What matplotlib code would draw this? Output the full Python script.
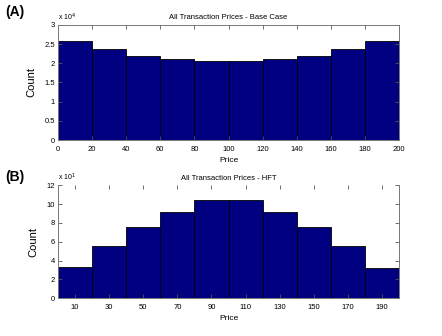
import matplotlib
matplotlib.use("Agg")
import matplotlib.pyplot as plt
from matplotlib.ticker import FuncFormatter

# Data
bin_edges = [0, 20, 40, 60, 80, 100, 120, 140, 160, 180, 200]
counts_base = [25900, 23700, 21800, 21000, 20500, 20500, 21000, 21900, 23700, 25800]
counts_hft = [33, 56, 76, 92, 104, 104, 92, 76, 56, 32]
xticks_a = [0, 20, 40, 60, 80, 100, 120, 140, 160, 180, 200]
xticks_b = [10, 30, 50, 70, 90, 110, 130, 150, 170, 190]
yticks_a = [0, 5000, 10000, 15000, 20000, 25000, 30000]
yticks_b = [0, 20, 40, 60, 80, 100, 120]

plt.rcParams['font.family'] = ['Liberation Sans', 'DejaVu Sans']

fig = plt.figure(figsize=(4.42, 3.36), dpi=100)
ax_a = fig.add_axes([0.131, 0.583, 0.772, 0.343])
ax_b = fig.add_axes([0.131, 0.112, 0.772, 0.337])

def draw(ax, counts, xticks, yticks, scale, exp, title, top_spine=True):
    lefts = bin_edges[:-1]
    widths = [bin_edges[i + 1] - bin_edges[i] for i in range(len(lefts))]
    ax.bar(lefts, counts, width=widths, align='edge', color='#000080',
           edgecolor='black', linewidth=0.6)
    ax.set_xlim(0, 200)
    ax.set_ylim(yticks[0], yticks[-1])
    ax.set_xticks(xticks)
    ax.set_yticks(yticks)
    ax.yaxis.set_major_formatter(FuncFormatter(lambda v, p: f"{v / scale:g}"))
    ax.tick_params(direction='in', length=3, width=0.6, labelsize=5.5,
                   top=True, right=True, color='#555555', pad=2)
    ax.tick_params(axis='x', pad=4)
    for s in ax.spines.values():
        s.set_color('#777777')
        s.set_linewidth(0.7)
    if not top_spine:
        ax.spines['top'].set_visible(False)
    ax.set_xlabel('Price', fontsize=6, labelpad=3)
    ax.set_ylabel('Count', fontsize=8, labelpad=6)
    ax.set_title(title, fontsize=5.5, pad=4)
    ax.text(0.0, 1.015, r'x 10$^{%d}$' % exp, transform=ax.transAxes,
            fontsize=5, ha='left', va='bottom')

draw(ax_a, counts_base, xticks_a, yticks_a, 1e4, 4,
     'All Transaction Prices - Base Case')
draw(ax_b, counts_hft, xticks_b, yticks_b, 1e1, 1,
     'All Transaction Prices - HFT', top_spine=False)

fig.text(0.012, 0.965, '(A)', fontsize=10, fontweight='bold', va='center')
fig.text(0.012, 0.472, '(B)', fontsize=10, fontweight='bold', va='center')

fig.savefig('out.png', dpi=100)
